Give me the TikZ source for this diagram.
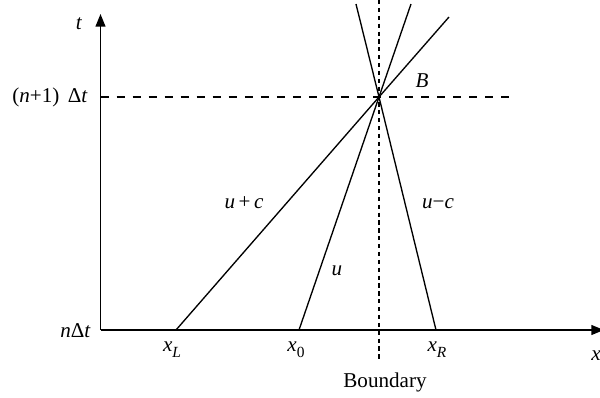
\documentclass[tikz,border=0pt]{standalone}
\usepackage{fontspec}
\setmainfont{Liberation Serif}
\usetikzlibrary{arrows.meta}
\newcommand\lowsub[1]{\raisebox{-0.3em}{\fontsize{11}{12}\selectfont #1}}
\begin{document}
\begin{tikzpicture}[x=0.025cm,y=-0.025cm,
  axisline/.style={line width=1.1pt,-{Triangle[length=9pt,width=7pt]}},
  ray/.style={line width=0.95pt},
  levelline/.style={line width=1pt,dash pattern=on 5.7pt off 5.7pt},
  boundline/.style={line width=1pt,dash pattern=on 3pt off 2.6pt},
  lbl/.style={font=\fontsize{15}{18}\selectfont, inner sep=0pt, anchor=base}]
\useasboundingbox (0,0) rectangle (600,397);
% key points
\coordinate (O) at (100.5,330);
\coordinate (tend) at (100.5,14);
\coordinate (xend) at (604,330);
\coordinate (B) at (379,97);
\coordinate (xL) at (176,330);
\coordinate (x0) at (299,330);
\coordinate (xR) at (436,330);
\coordinate (topplus) at (449,17);
\coordinate (topu) at (411,4);
\coordinate (topminus) at (356,4);
\coordinate (lvlL) at (100.5,97);
\coordinate (lvlR) at (511,97);
\coordinate (bdtop) at (379,0);
\coordinate (bdbot) at (379,361);
% boundary and level
\draw[boundline] (bdtop) -- (bdbot);
\draw[levelline] (lvlL) -- (lvlR);
% axes
\draw[axisline] (O) -- (tend);
\draw[axisline] (O) -- (xend);
% characteristics
\draw[ray] (xL) -- (B) -- (topplus);
\draw[ray] (x0) -- (B) -- (topu);
\draw[ray] (xR) -- (B) -- (topminus);
% labels
\node[lbl] (tl) at (79,29) {\textit{t}};
\node[lbl,anchor=base east] (n1l) at (88,102) {(\textit{n}+1)\hspace{0.4em}Δ\textit{t}};
\node[lbl,anchor=base east] (nl) at (91,337) {\textit{n}Δ\textit{t}};
\node[lbl] (xLl) at (172,351) {\textit{x}\lowsub{\textit{L}}};
\node[lbl] (x0l) at (296,351) {\textit{x}\lowsub{0}};
\node[lbl] (xRl) at (437,351) {\textit{x}\lowsub{\textit{R}}};
\node[lbl] (xl) at (596,360) {\textit{x}};
\node[lbl] (bl) at (385,387) {Boundary};
\node[lbl] (upc) at (244,208) {\textit{u}\,+\,\textit{c}};
\node[lbl] (ul) at (337,275) {\textit{u}};
\node[lbl] (umc) at (438,208) {\textit{u}−\textit{c}};
\node[lbl] (Bl) at (422,87) {\textit{B}};
\end{tikzpicture}
\end{document}
